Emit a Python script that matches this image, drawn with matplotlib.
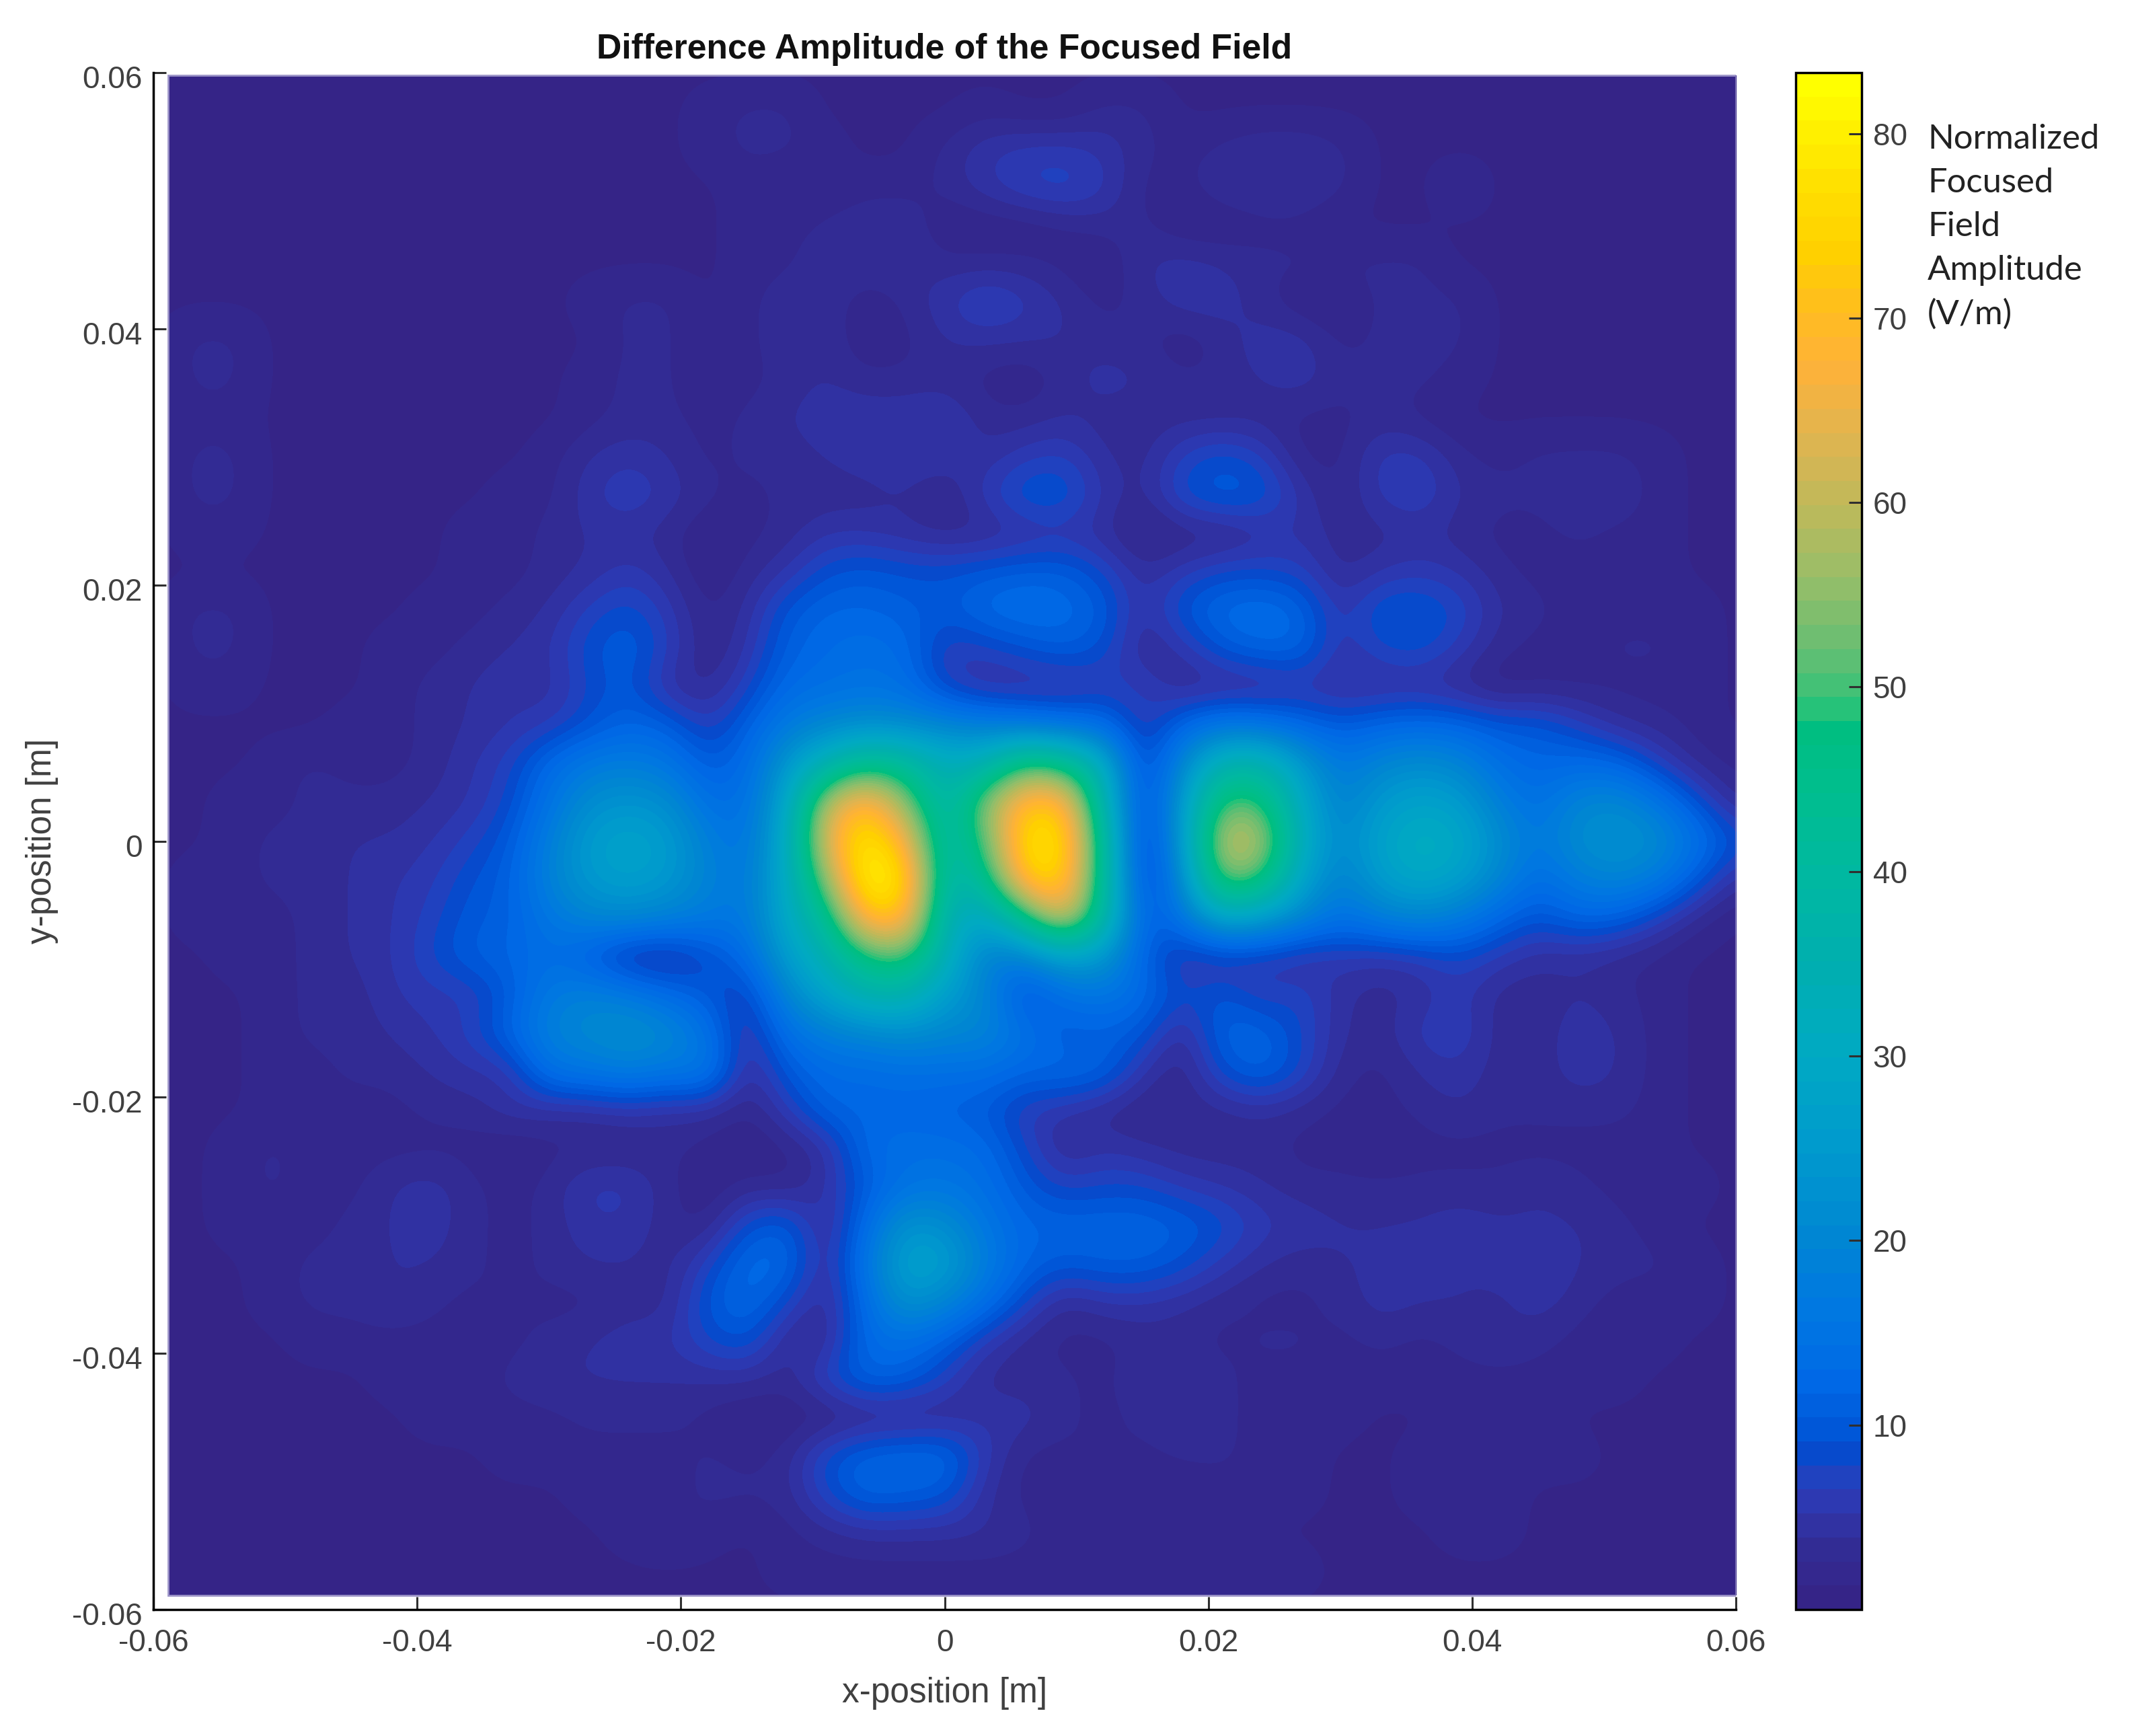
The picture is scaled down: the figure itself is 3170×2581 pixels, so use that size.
import numpy as np
import matplotlib
matplotlib.use('Agg')
import matplotlib.pyplot as plt
from matplotlib.colors import LinearSegmentedColormap
from matplotlib.patches import Rectangle
from matplotlib.transforms import ScaledTranslation

plt.rcParams['font.family'] = ['Liberation Sans', 'DejaVu Sans']
plt.rcParams['axes.unicode_minus'] = False

# field amplitude, 3 mm grid, top row is y = +0.06
field_rows = [
    [1,1,1,1,1,1,1,1,1,1, 1,1,1,1,1,1,1,1,1,1, 1,1,1,1,1,1,1,1,1,1, 1,1,1,1,1,1,1,1,1,1,1],
    [1,1,1,1,1,1,1,1,1,1, 1,1,1,1,2,3,3,1,1,1, 1,2,1,1,3,3,1,1,1,1, 1,1,1,1,1,1,1,1,1,1,1],
    [1,1,1,1,1,1,1,1,1,1, 1,1,1,1,2,3,3,2,1,1, 3,5,6,6,5,3,2,3,4,4, 3,1,1,1,1,1,1,1,1,1,1],
    [1,1,1,1,1,1,1,1,1,1, 1,1,1,1,1,2,1,1,2,2, 3,5,7,8,6,2,2,4,4,4, 3,1,1,3,1,1,1,1,1,1,1],
    [1,1,1,1,1,1,1,1,1,1, 1,1,1,1,1,2,2,3,4,4, 1,1,1,2,3,3,1,1,2,2, 1,1,1,1,1,1,1,1,1,1,1],
    [1,1,1,1,1,1,1,1,1,1, 1,1,1,1,1,2,2,4,4,4, 3,3,3,2,1,4,5,4,3,3, 3,3,3,1,1,1,1,1,1,1,1],
    [1,1,1,1,1,1,1,1,1,1, 1,2,3,3,1,2,4,4,1,3, 5,8,6,4,2,3,5,5,3,1, 1,3,3,3,1,1,1,1,1,1,1],
    [1,3,3,1,1,1,1,1,1,1, 1,1,3,3,1,2,4,4,1,2, 4,4,4,4,3,3,1,3,5,5, 2,3,3,3,1,1,1,1,1,1,1],
    [1,3,3,1,1,1,1,1,1,1, 1,2,3,3,1,2,3,4,3,3, 3,2,1,3,5,4,3,3,4,5, 3,3,3,2,1,1,1,1,1,1,1],
    [1,2,2,1,1,1,1,1,1,1, 1,2,3,3,2,3,4,5,5,5, 6,3,3,4,3,3,3,3,3,2, 2,3,2,1,1,1,1,1,1,1,1],
    [1,3,3,1,1,1,1,1,1,1, 2,4,5,4,2,3,3,4,5,5, 5,4,6,7,4,3,7,9,7,2, 2,6,6,3,2,3,3,3,2,1,1],
    [1,3,3,1,1,1,1,1,1,2, 2,5,7,5,3,2,3,3,3,4, 2,6,10,10,5,3,9,11,10,5, 2,6,7,4,3,3,4,4,2,1,1],
    [1,2,2,1,1,1,1,1,2,2, 3,4,4,3,1,2,3,5,5,4, 3,3,4,5,4,1,2,2,4,5, 3,3,4,3,2,2,3,2,2,1,1],
    [1,1,1,1,1,1,1,1,2,2, 3,4,6,4,1,3,5,9,10,9, 9,10,11,11,8,4,6,8,8,7, 3,5,6,5,3,2,2,2,2,1,1],
    [1,3,3,1,1,1,1,2,2,3, 4,7,9,6,2,4,10,12,12,11, 10,13,14,13,11,4,10,13,14,12, 5,10,10,8,4,3,2,2,2,2,1],
    [1,3,3,1,1,1,2,2,3,4, 5,9,11,7,2,5,11,13,14,13, 6,7,9,11,9,3,5,10,12,12, 5,8,9,6,3,2,2,3,3,2,1],
    [1,2,2,1,1,1,2,3,4,5, 4,8,10,4,3,7,13,14,15,14, 7,4,4,4,6,7,3,3,3,5, 4,4,4,3,1,2,2,2,2,2,1],
    [1,1,1,1,1,2,2,3,4,5, 6,9,12,11,6,11,17,20,22,21, 20,18,16,14,13,5,12,16,15,12, 10,12,13,12,10,10,7,4,3,2,1],
    [1,1,1,2,3,2,2,3,5,7, 13,17,18,16,10,13,24,35,45,42, 32,34,50,46,32,6,20,36,37,25, 16,20,22,20,14,12,13,12,7,3,2],
    [1,1,2,2,3,3,3,4,5,8, 15,22,24,22,14,14,28,60,72,55, 35,55,72,72,36,6,24,52,50,30, 18,25,28,26,18,14,20,21,16,9,3],
    [1,1,2,3,3,4,4,5,7,10, 18,26,28,26,18,15,30,65,80,68, 36,50,78,78,42,4,24,62,60,32, 20,28,32,30,22,16,22,24,22,15,9],
    [1,2,2,3,3,4,5,6,9,11, 19,25,27,25,19,16,30,55,83,78, 36,42,74,76,42,5,20,55,50,28, 18,26,30,27,20,13,18,20,17,10,4],
    [1,2,2,2,3,4,5,7,10,11, 16,20,21,19,17,16,30,42,72,72, 34,28,45,66,40,10,15,30,26,20, 14,18,20,17,12,9,12,11,7,3,1],
    [1,1,2,2,3,4,5,8,11,12, 14,10,4,4,8,13,26,35,48,52, 34,18,18,27,25,11,5,5,6,4, 6,5,6,8,6,4,4,3,2,1,1],
    [1,1,1,2,3,3,5,6,6,10, 17,19,17,13,10,6,20,28,36,36, 26,20,8,14,16,13,8,10,6,8, 4,3,4,6,3,3,4,3,2,1,1],
    [1,1,1,2,3,3,4,5,7,12, 19,21,23,21,15,4,14,18,20,22, 20,20,15,10,11,10,3,12,12,8, 4,3,6,7,3,3,5,4,2,1,1],
    [1,1,1,2,2,3,3,4,5,5, 15,16,18,16,17,3,10,13,13,14, 14,14,12,13,12,5,2,9,12,8, 3,2,4,5,3,3,5,4,2,1,1],
    [1,1,1,2,2,2,2,3,3,5, 4,4,5,4,4,2,6,12,12,12, 11,10,6,5,3,2,3,3,4,3, 2,2,3,4,3,3,3,3,2,1,1],
    [1,1,2,3,2,2,2,2,2,1, 2,2,2,3,2,1,2,4,13,14, 14,13,8,3,5,4,3,3,3,2, 2,1,2,2,2,2,2,2,2,1,1],
    [1,1,2,3,2,2,4,5,3,2, 3,6,6,3,1,3,2,5,10,15, 16,14,10,7,8,8,6,5,4,3, 3,3,3,3,3,4,3,2,2,2,1],
    [1,1,2,2,2,3,4,5,3,2, 3,5,5,3,2,9,11,3,13,24, 22,16,12,12,12,12,11,9,6,5, 4,4,4,5,4,4,4,3,2,1,1],
    [1,1,1,2,3,3,4,4,3,2, 3,4,4,3,7,13,13,3,16,28, 27,18,12,10,11,11,9,6,4,3, 4,4,5,4,5,6,4,3,3,2,1],
    [1,1,1,2,3,3,4,3,2,3, 2,2,3,3,10,13,8,3,13,24, 20,14,8,3,5,5,4,3,2,2, 3,5,4,4,3,5,3,2,2,2,1],
    [1,1,1,1,2,2,2,2,2,2, 3,4,5,5,8,10,3,3,13,14, 11,6,3,2,2,3,3,2,3,3, 2,3,2,3,4,3,2,2,2,1,1],
    [1,1,1,1,1,1,2,2,2,3, 4,4,4,4,4,4,3,8,12,11, 7,3,3,3,2,4,4,3,2,2, 2,2,2,2,2,2,2,2,1,1,1],
    [1,1,1,1,1,1,1,2,2,2, 2,3,3,3,2,1,1,1,2,2, 3,5,5,3,2,3,4,3,2,2, 2,1,1,2,2,2,1,1,1,1,1],
    [1,1,1,1,1,1,1,1,1,2, 2,2,2,2,3,2,3,9,12,13, 13,6,2,2,3,2,3,3,2,2, 1,1,2,2,2,2,2,1,1,1,1],
    [1,1,1,1,1,1,1,1,1,1, 1,2,2,2,3,3,3,8,12,11, 10,4,2,2,2,2,1,2,2,2, 1,1,2,2,2,1,1,1,1,1,1],
    [1,1,1,1,1,1,1,1,1,1, 1,1,2,3,2,1,2,3,4,4, 4,4,3,2,2,2,2,2,1,1, 1,1,1,2,2,1,1,1,1,1,1],
    [1,1,1,1,1,1,1,1,1,1, 1,1,1,1,1,1,2,2,2,2, 2,2,2,2,2,3,2,2,3,2, 1,1,1,1,1,1,1,1,1,1,1],
    [1,1,1,1,1,1,1,1,1,1, 1,1,1,1,1,1,1,1,1,1, 1,1,1,1,1,1,1,1,1,1, 1,1,1,1,1,1,1,1,1,1,1],
]

axis_ticks = [-0.06, -0.04, -0.02, 0, 0.02, 0.04, 0.06]
axis_tick_labels = ['-0.06', '-0.04', '-0.02', '0', '0.02', '0.04', '0.06']
cbar_ticks = [10, 20, 30, 40, 50, 60, 70, 80]
cbar_text = ['Normalized', 'Focused', 'Field', 'Amplitude', '(V/m)']

v_max = 83.3
# colour bar
cmap_values = [0, 3, 5, 6.5, 7.5, 9, 12, 16, 20, 25, 30, 35, 40, 45, 48.5, 49,
               52, 56, 60, 64, 68, 71, 74, 78, 83.3]
cmap_colors = ['#352487', '#322D96', '#2F37AF', '#2341BE', '#0A46C8', '#0055D7',
               '#0069E6', '#0078E1', '#0087D2', '#009BCD', '#00AAC3', '#00AFAF',
               '#00B9A0', '#00BE8C', '#00BE7D', '#2DC378', '#64BE73', '#96BE69',
               '#BEB95A', '#E1B450', '#FFB237', '#FFBE1E', '#FFD000', '#FFE100',
               '#FFFF00']

W, H = 3170, 2581
fig = plt.figure(figsize=(W / 100, H / 100), dpi=100)

cmap = LinearSegmentedColormap.from_list(
    'field', [(v / v_max, c) for v, c in zip(cmap_values, cmap_colors)], N=64)

ax = fig.add_axes([228 / W, 1 - 2393 / H, 2353 / W, 2285 / H])
field = np.array(field_rows, dtype=float)
# half a cell past the limits so cell centres sit on the 3 mm grid
im = ax.imshow(field, cmap=cmap, vmin=0, vmax=v_max, aspect='auto',
               interpolation='bicubic', extent=[-0.0615, 0.0615, -0.0615, 0.0615])
ax.set_xlim(-0.06, 0.06)
ax.set_ylim(-0.06, 0.06)

# the plotted field stops short of the left and bottom axes
frame = Rectangle((-0.0589, -0.0589), 0.1189, 0.1187, transform=ax.transData,
                  fill=False, edgecolor='#9C94C8', linewidth=2)
ax.add_patch(frame)
im.set_clip_path(frame)

ax.set_xticks(axis_ticks)
ax.set_xticklabels(axis_tick_labels)
ax.set_yticks(axis_ticks)
ax.set_yticklabels(axis_tick_labels)
ax.tick_params(direction='in', length=14, width=2.2, labelsize=33,
               labelcolor='#404040', color='#303030', pad=12)
ax.tick_params(axis='x', pad=20)
for label in ax.get_yticklabels():
    label.set_transform(label.get_transform() + ScaledTranslation(0, -0.06, fig.dpi_scale_trans))
ax.spines['top'].set_visible(False)
ax.spines['right'].set_visible(False)
ax.spines['left'].set_linewidth(2.5)
ax.spines['bottom'].set_linewidth(2.5)
ax.set_xlabel('x-position [m]', fontsize=37, color='#404040', labelpad=20)
ax.set_ylabel('y-position [m]', fontsize=37, color='#404040', labelpad=14)
ax.set_title('Difference Amplitude of the Focused Field', fontsize=37.2,
             fontweight='bold', color='#111111', pad=15)

cax = fig.add_axes([2670 / W, 1 - 2393 / H, 98 / W, 2285 / H])
cb = fig.colorbar(im, cax=cax)
cb.set_ticks(cbar_ticks)
cb.ax.tick_params(direction='in', length=14, width=2.2, labelsize=33,
                  labelcolor='#404040', color='#303030', pad=12)
cb.outline.set_linewidth(2.5)

for i, line in enumerate(cbar_text):
    fig.text(2866 / W, 1 - (207 + i * 65) / H, line, fontsize=36.5, family='Lato',
             color='#222222', va='center', ha='left')

fig.savefig('out.png', dpi=100)
